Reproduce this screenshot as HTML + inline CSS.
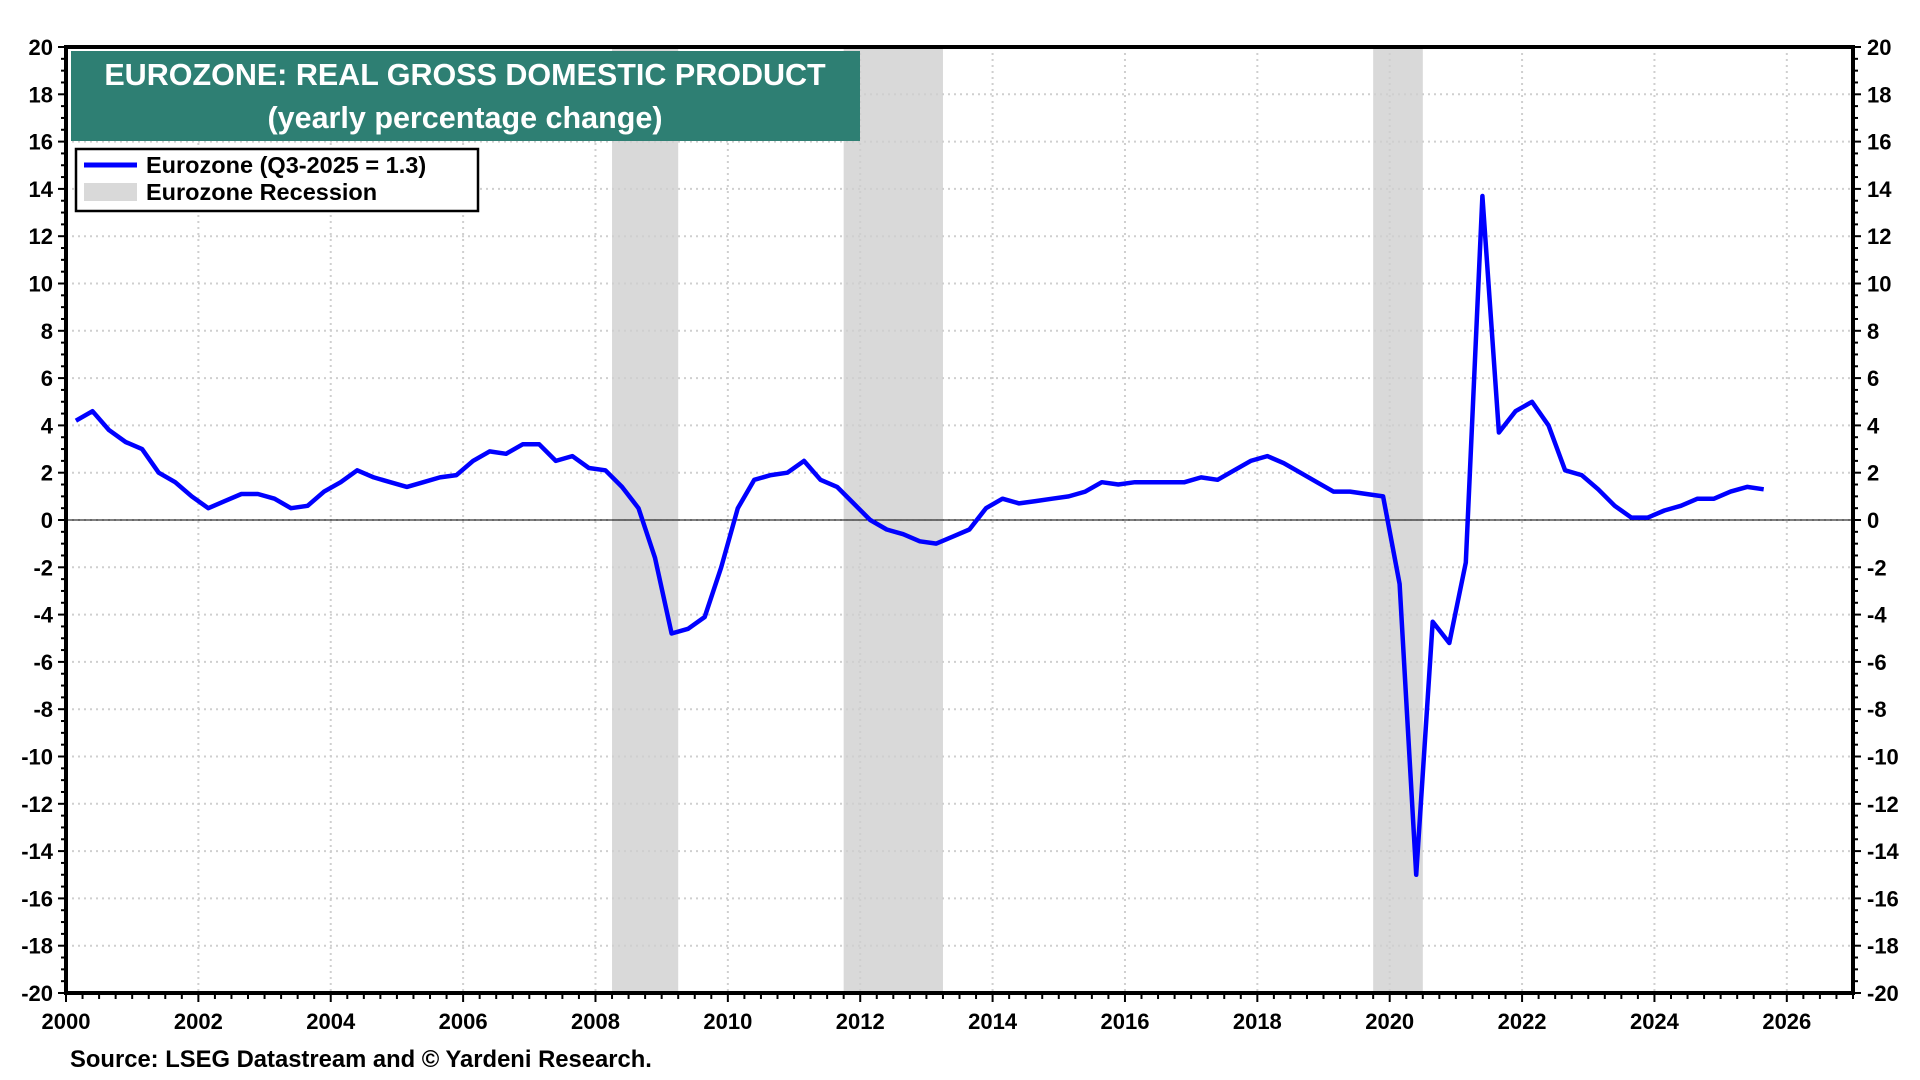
<!DOCTYPE html>
<html><head><meta charset="utf-8"><style>
html,body{margin:0;padding:0;background:#fff;}
svg{display:block;font-family:"Liberation Sans",Arial,sans-serif;}
</style></head><body>
<svg id="c" width="1920" height="1080" viewBox="0 0 1920 1080"></svg>
<script>
const X0=66,X1=1853,Y0=47,Y1=993;
const fx=y=>X0+(y-2000)*(X1-X0)/27;
const fy=v=>Y0+(20-v)*(Y1-Y0)/40;
let s='';
[[2008.25,2009.25],[2011.75,2013.25],[2019.75,2020.5]].forEach(r=>{
 s+=`<rect x="${fx(r[0])}" y="${Y0}" width="${fx(r[1])-fx(r[0])}" height="${Y1-Y0}" fill="#d9d9d9"/>`;});
for(let y=2002;y<=2026;y+=2)s+=`<line x1="${fx(y)}" x2="${fx(y)}" y1="${Y0}" y2="${Y1}" stroke="#cfcfcf" stroke-width="2" stroke-dasharray="2,4"/>`;
for(let v=-18;v<=18;v+=2)s+=`<line x1="${X0}" x2="${X1}" y1="${fy(v)}" y2="${fy(v)}" stroke="#cfcfcf" stroke-width="2" stroke-dasharray="2,4"/>`;
s+=`<line x1="${X0}" x2="${X1}" y1="${fy(0)}" y2="${fy(0)}" stroke="#000" stroke-width="1"/>`;
const d=[4.2,4.6,3.8,3.3,3.0,2.0,1.6,1.0,0.5,0.8,1.1,1.1,0.9,0.5,0.6,1.2,1.6,2.1,1.8,1.6,1.4,1.6,1.8,1.9,2.5,2.9,2.8,3.2,3.2,2.5,2.7,2.2,2.1,1.4,0.5,-1.6,-4.8,-4.6,-4.1,-2.0,0.5,1.7,1.9,2.0,2.5,1.7,1.4,0.7,0.0,-0.4,-0.6,-0.9,-1.0,-0.7,-0.4,0.5,0.9,0.7,0.8,0.9,1.0,1.2,1.6,1.5,1.6,1.6,1.6,1.6,1.8,1.7,2.1,2.5,2.7,2.4,2.0,1.6,1.2,1.2,1.1,1.0,-2.7,-15,-4.3,-5.2,-1.8,13.7,3.7,4.6,5.0,4.0,2.1,1.9,1.3,0.6,0.1,0.1,0.4,0.6,0.9,0.9,1.2,1.4,1.3];
s+=`<polyline fill="none" stroke="#0000ff" stroke-width="4.5" stroke-linejoin="round" points="${d.map((v,i)=>fx(2000.15+i*0.25).toFixed(1)+','+fy(v).toFixed(1)).join(' ')}"/>`;
s+=`<rect x="${X0}" y="${Y0}" width="${X1-X0}" height="${Y1-Y0}" fill="none" stroke="#000" stroke-width="4"/>`;
for(let v=-20;v<=20;v+=0.5){const y=fy(v),maj=v%2===0,l=maj?8:5;
 s+=`<line x1="${X0-l}" x2="${X0}" y1="${y}" y2="${y}" stroke="#000" stroke-width="2"/><line x1="${X1}" x2="${X1+l}" y1="${y}" y2="${y}" stroke="#000" stroke-width="2"/>`;
 if(maj){s+=`<text x="${X0-13}" y="${y+8}" text-anchor="end" font-size="22" font-weight="bold">${v}</text><text x="${X1+14}" y="${y+8}" font-size="22" font-weight="bold">${v}</text>`;}}
for(let q=0;q<=108;q++){const yr=2000+q*0.25,x=fx(yr),maj=q%8===0;
 s+=`<line x1="${x}" x2="${x}" y1="${Y1}" y2="${Y1+(maj?9:6)}" stroke="#000" stroke-width="2"/>`;
 if(maj)s+=`<text x="${x}" y="${Y1+36}" text-anchor="middle" font-size="22" font-weight="bold">${yr}</text>`;}
s+=`<rect x="71" y="51" width="789" height="90" fill="#2e7f73"/>
<text x="465" y="85" text-anchor="middle" fill="#fff" font-size="30.5" font-weight="bold">EUROZONE: REAL GROSS DOMESTIC PRODUCT</text>
<text x="465" y="128" text-anchor="middle" fill="#fff" font-size="30.5" font-weight="bold">(yearly percentage change)</text>`;
s+=`<rect x="76" y="149" width="402" height="62" fill="#fff" stroke="#000" stroke-width="2.5"/>
<line x1="84" x2="137" y1="165" y2="165" stroke="#0000ff" stroke-width="5"/>
<text x="146" y="173" font-size="23.5" font-weight="bold">Eurozone (Q3-2025 = 1.3)</text>
<rect x="84" y="183" width="53" height="18" fill="#d9d9d9"/>
<text x="146" y="200" font-size="23.5" font-weight="bold">Eurozone Recession</text>`;
s+=`<text x="70" y="1067" font-size="23.8" font-weight="bold">Source: LSEG Datastream and © Yardeni Research.</text>`;
document.getElementById('c').innerHTML=s;
</script>
</body></html>
